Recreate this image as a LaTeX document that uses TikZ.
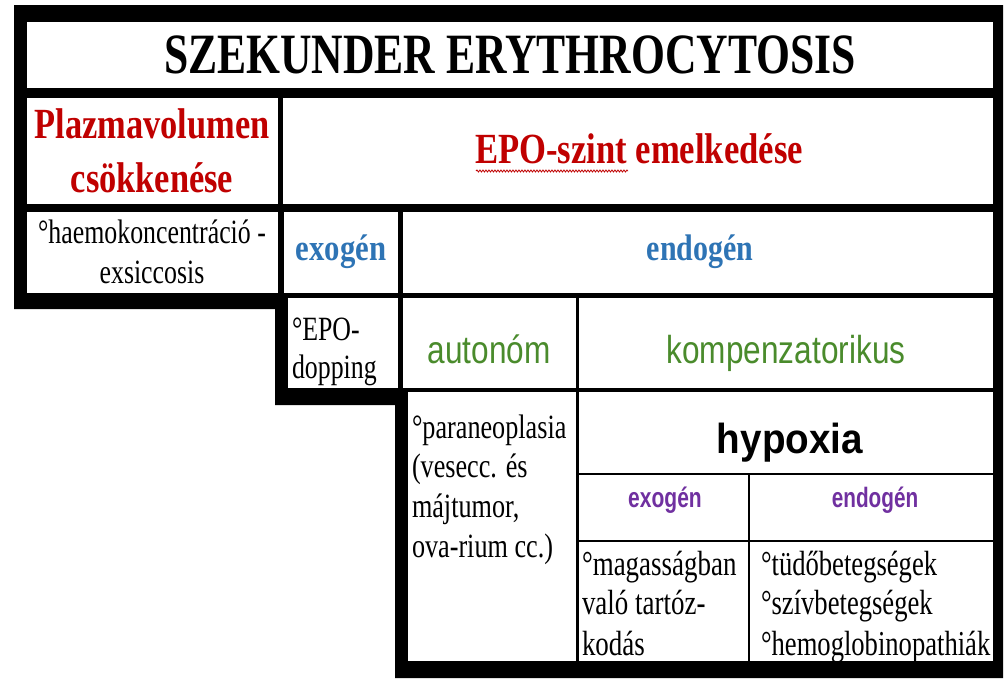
\documentclass[tikz,border=0pt]{standalone}
\usepackage{fontspec}
\setmainfont{Liberation Serif}
\newfontfamily\arial{Liberation Sans}
\usepackage{graphicx}
\usetikzlibrary{decorations.pathmorphing}
\definecolor{tred}{HTML}{C00000}
\definecolor{tblue}{HTML}{2E74B5}
\definecolor{tgreen}{HTML}{4A8B2C}
\definecolor{tpurple}{HTML}{7030A0}
\newcommand{\hx}[2]{\scalebox{#1}[1]{#2}}
\newcommand{\fs}[1]{\fontsize{#1}{#1}\selectfont}
\begin{document}
\begin{tikzpicture}[x=1pt,y=-1pt,
  txt/.style={inner sep=0pt,outer sep=0pt,anchor=base},
  ltxt/.style={inner sep=0pt,outer sep=0pt,anchor=base west},
  cellbox/.style={fill=white},
  frame/.style={fill=black}]
\useasboundingbox[fill=white] (0,0) rectangle (1005,683);
% black staircase frame
\fill[frame] (14,5) -- (1003,5) -- (1003,678) -- (395,678) -- (395,405)
  -- (275,405) -- (275,309) -- (14,309) -- cycle;
% white cells
\fill[cellbox] (27,22) rectangle (993,88);
\fill[cellbox] (27,98) rectangle (278,204);
\fill[cellbox] (283,98) rectangle (993,204);
\fill[cellbox] (27,212) rectangle (278,293);
\fill[cellbox] (284,212) rectangle (398,293);
\fill[cellbox] (403,212) rectangle (993,293);
\fill[cellbox] (288,298) rectangle (398,388);
\fill[cellbox] (403,298) rectangle (576,388);
\fill[cellbox] (579,298) rectangle (993,388);
\fill[cellbox] (408,392) rectangle (576,661);
\fill[cellbox] (579,392) rectangle (993,473);
\fill[cellbox] (579,475) rectangle (748,540);
\fill[cellbox] (750,475) rectangle (993,540);
\fill[cellbox] (579,542) rectangle (748,661);
\fill[cellbox] (750,542) rectangle (993,661);
% texts
\node[txt] (title) at (510,73) {\fs{57}\bfseries\hx{0.765}{SZEKUNDER ERYTHROCYTOSIS}};
\node[txt,text=tred] (pl1) at (152,138) {\fs{43}\bfseries\hx{0.80}{Plazmavolumen}};
\node[txt,text=tred] (pl2) at (152,192) {\fs{43}\bfseries\hx{0.80}{csökkenése}};
\node[txt,text=tred] (epo) at (639,163) {\fs{43}\bfseries\hx{0.805}{EPO-szint emelkedése}};
\draw[tred,line width=0.8pt,decorate,decoration={snake,amplitude=1pt,segment length=3pt}]
  (476,171) -- (628,171);
\node[txt] (hae1) at (152,243) {\fs{34}\hx{0.76}{°haemokoncentráció -}};
\node[txt] (hae2) at (152,283) {\fs{34}\hx{0.76}{exsiccosis}};
\node[txt,text=tblue] (exo) at (341,260) {\fs{37}\bfseries\hx{0.83}{exogén}};
\node[txt,text=tblue] (endo) at (700,260) {\fs{37}\bfseries\hx{0.81}{endogén}};
\node[ltxt] (dop1) at (292,340) {\fs{34}\hx{0.76}{°EPO-}};
\node[ltxt] (dop2) at (292,378) {\fs{34}\hx{0.76}{dopping}};
\node[txt,text=tgreen] (auto) at (489,363) {\arial\fs{39}\hx{0.81}{autonóm}};
\node[txt,text=tgreen] (komp) at (786,363) {\arial\fs{39}\hx{0.81}{kompenzatorikus}};
\node[ltxt] (par1) at (412,438) {\fs{34}\hx{0.77}{°paraneoplasia}};
\node[ltxt] (par2) at (412,477) {\fs{34}\hx{0.77}{(vesecc. és}};
\node[ltxt] (par3) at (412,517) {\fs{34}\hx{0.77}{májtumor,}};
\node[ltxt] (par4) at (412,557) {\fs{34}\hx{0.77}{ova-rium cc.)}};
\node[txt] (hyp) at (790,453) {\arial\bfseries\fs{42}\hx{0.92}{hypoxia}};
\node[txt,text=tpurple] (exo2) at (665,507) {\arial\bfseries\fs{28}\hx{0.75}{exogén}};
\node[txt,text=tpurple] (endo2) at (875,507) {\arial\bfseries\fs{28}\hx{0.74}{endogén}};
\node[ltxt] (mag1) at (582,575) {\fs{35}\hx{0.77}{°magasságban}};
\node[ltxt] (mag2) at (582,614) {\fs{35}\hx{0.77}{való tartóz-}};
\node[ltxt] (mag3) at (582,655) {\fs{35}\hx{0.77}{kodás}};
\node[ltxt] (tud1) at (761,575) {\fs{35}\hx{0.76}{°tüdőbetegségek}};
\node[ltxt] (tud2) at (761,614) {\fs{35}\hx{0.76}{°szívbetegségek}};
\node[ltxt] (tud3) at (761,655) {\fs{35}\hx{0.76}{°hemoglobinopathiák}};
\end{tikzpicture}
\end{document}
